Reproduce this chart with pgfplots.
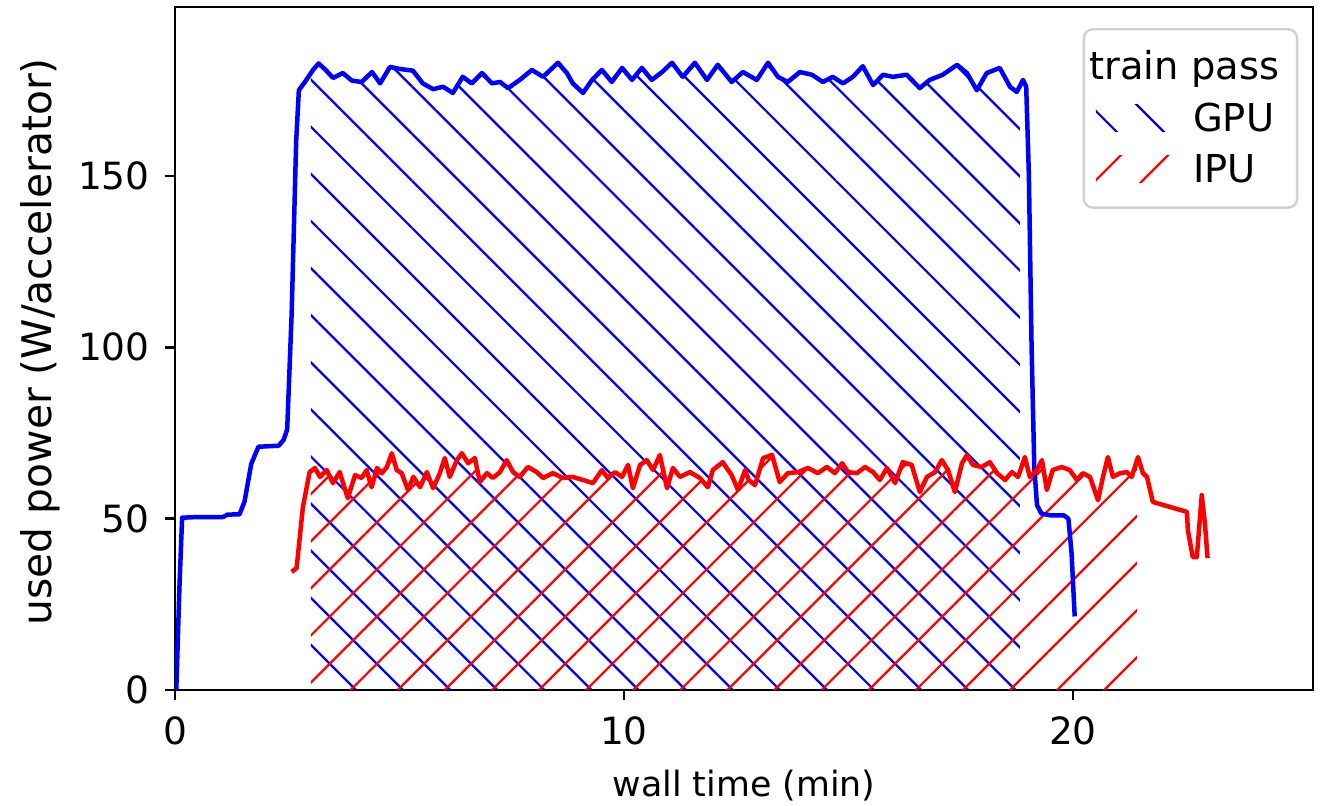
\documentclass[border=0pt]{standalone}
\usepackage{fontspec}
\setmainfont{DejaVu Sans}
\usepackage{pgfplots}
\pgfplotsset{compat=1.18}
\usepgfplotslibrary{fillbetween}
\usetikzlibrary{patterns.meta,calc}
\definecolor{mplblue}{RGB}{0,0,255}
\definecolor{mplred}{RGB}{255,0,0}

\pgfplotstableread{
x y
0.03 0
0.1 30
0.16 50.3
0.5 50.5
1.07 50.5
1.17 51.2
1.44 51.3
1.55 55
1.7 66
1.86 71
2.31 71.3
2.42 73
2.5 76
2.6 110
2.7 160
2.76 175
2.9 177.5
3.08 181
3.2 182.8
3.35 181
3.52 178.6
3.74 180
3.94 177.8
4.16 177.4
4.39 180.3
4.57 177
4.79 181.8
5.01 181.2
5.3 180.7
5.52 177
5.75 175.3
5.97 176
6.19 174.2
6.41 178.9
6.61 177
6.84 180
7.06 177
7.24 177.4
7.42 175.6
7.68 178
7.95 180.9
8.2 178.9
8.53 183
8.73 180
8.86 177
9.09 174.2
9.29 178
9.51 180.9
9.73 177.4
9.96 181.5
10.18 178
10.4 181.5
10.62 178
10.85 180.3
11.07 183
11.31 178.9
11.58 183
11.85 178
12.09 182.4
12.4 177.4
12.65 180.3
12.96 178
13.21 183
13.43 178.9
13.65 177.4
13.92 180.3
14.19 179.5
14.43 177.4
14.65 178.9
14.88 177
15.1 178.9
15.32 182
15.55 176.5
15.77 179.5
15.99 178.9
16.3 179.5
16.59 175.6
16.81 178
17.1 179.5
17.42 182.4
17.64 180
17.86 175
18.08 180
18.37 181.5
18.6 176
18.75 174.5
18.89 178
18.96 176
19.02 150
19.08 100
19.14 65
19.2 54
19.3 51.5
19.5 51
19.8 51
19.9 50
19.97 40
20.04 21.5
}\gpudata

\pgfplotstableread{
x y
2.6 34.5
2.71 35.6
2.85 53.4
3.0 63.6
3.12 64.8
3.23 62.2
3.38 64.2
3.52 60.4
3.67 63.6
3.85 56
4.01 62.7
4.16 61.9
4.27 64.2
4.38 59.2
4.5 64.8
4.61 63.3
4.72 65.1
4.83 69.1
4.94 64.2
5.05 63.3
5.19 58.4
5.31 62.2
5.46 59.2
5.61 63.6
5.75 58.9
5.9 63.3
6.01 67.7
6.12 62.2
6.28 67.1
6.39 69.1
6.53 66.2
6.68 67.7
6.79 60.7
6.95 63.3
7.08 61.9
7.24 63.6
7.39 67.1
7.53 63.6
7.68 62.2
7.86 65.1
8.06 63.6
8.2 61.9
8.42 63.3
8.64 61.9
8.86 62.2
9.09 61.3
9.31 60.4
9.51 64.2
9.64 61.9
9.8 63.6
9.96 62.2
10.09 65.7
10.2 58.9
10.36 65.7
10.51 67.1
10.65 64.2
10.8 68.6
10.96 58.9
11.09 64.8
11.25 62.2
11.47 63.6
11.69 61.9
11.87 59.2
11.98 64.2
12.2 66.5
12.4 62.7
12.54 58.4
12.7 64.2
12.78 61.3
12.92 59.8
13.1 67.7
13.3 68.6
13.47 60.7
13.65 63.3
13.88 63.6
14.1 64.8
14.32 63.3
14.52 65.1
14.7 63.3
14.86 66.2
14.99 63.6
15.19 63.3
15.37 65.1
15.55 63.6
15.7 61.3
15.86 64.8
16.04 60.4
16.21 66.5
16.41 65.7
16.59 57.8
16.75 62.2
16.93 63.6
17.08 67.1
17.22 64.2
17.37 57.8
17.53 66.2
17.64 68.6
17.77 65.7
17.97 65.1
18.15 66.5
18.31 63.3
18.49 61.3
18.64 63.6
18.78 62.2
18.93 68
19.04 62.2
19.2 64.2
19.31 67.1
19.42 58.4
19.55 64.2
19.75 65.1
19.93 64.2
20.09 61.3
20.22 63.3
20.38 62.2
20.56 55.4
20.67 62.2
20.78 68
20.89 62.2
21.05 63.3
21.2 63.6
21.31 62.2
21.45 68
21.56 63.3
21.65 62.2
21.78 54.9
22.54 52
22.56 46.7
22.67 38.8
22.76 38.8
22.87 56.9
22.94 48.7
23.0 38.5
}\ipudata

\begin{document}
\begin{tikzpicture}
\begin{axis}[
  name=ax,
  set layers,
  width=379.3pt, height=227.7pt, scale only axis,
  xmin=0, xmax=25.35, ymin=0, ymax=199.3,
  xtick={0,10,20}, ytick={0,50,100,150},
  tick align=outside, tick pos=left,
  major tick length=3.4pt,
  every tick/.style={black, line width=0.85pt},
  axis line style={line width=0.85pt},
  /pgf/number format/assume math mode=true,
  tick label style={font=\fontsize{12.5}{15}\selectfont},
  xticklabel style={yshift=-2pt},
  yticklabel style={xshift=-1.5pt},
  xlabel={wall time (min)},
  ylabel={used power (W/accelerator)},
  xlabel style={font=\fontsize{11.6}{13}\selectfont, at={(axis description cs:0.5,0)}, anchor=north, yshift=-23pt},
  ylabel style={font=\fontsize{13.6}{15}\selectfont, at={(axis description cs:-0.1187,0.51)}, anchor=center},
  legend cell align=left,
  legend style={at={(0.987,0.969)}, anchor=north east, draw=black!18,
    line width=0.8pt, rounded corners=3pt, inner xsep=4pt, inner ysep=5pt,
    font=\fontsize{12.8}{15}\selectfont, row sep=2.2pt},
]
\addplot[draw=none, name path=zero, forget plot] coordinates {(-1,0) (26,0)};
\addplot[mplblue, line width=1.5pt, line join=round, name path=gpu, forget plot] table[x=x,y=y] {\gpudata};
\addplot[mplred, line width=1.5pt, line join=round, name path=ipu, forget plot] table[x=x,y=y] {\ipudata};
\addplot[draw=none, pattern={Lines[angle=-45, distance=11.1pt, line width=0.75pt]}, pattern color=mplblue, forget plot]
  fill between[of=gpu and zero, soft clip={domain=3.03:18.82}];
\addplot[draw=none, pattern={Lines[angle=45, distance=11.1pt, line width=0.75pt]}, pattern color=mplred, forget plot]
  fill between[of=ipu and zero, soft clip={domain=3.03:21.43}];
\addlegendimage{empty legend}
\addlegendentry{\hspace{-34.5pt}train pass}
\addlegendimage{legend image code/.code={\path[draw=none, sharp corners, pattern={Lines[angle=-45, distance=11.1pt, line width=0.75pt]}, pattern color=mplblue] (0pt,-4pt) rectangle (25pt,5pt); \path (30pt,0pt);}}
\addlegendentry{GPU}
\addlegendimage{legend image code/.code={\path[draw=none, sharp corners, pattern={Lines[angle=45, distance=11.1pt, line width=0.75pt]}, pattern color=mplred] (0pt,-4pt) rectangle (25pt,5pt); \path (30pt,0pt);}}
\addlegendentry{IPU}
\end{axis}
\pgfresetboundingbox
\path[use as bounding box] ($(ax.south west)+(-58.3pt,-38.3pt)$) rectangle ($(ax.north east)+(6.3pt,2.3pt)$);
\end{tikzpicture}
\end{document}
